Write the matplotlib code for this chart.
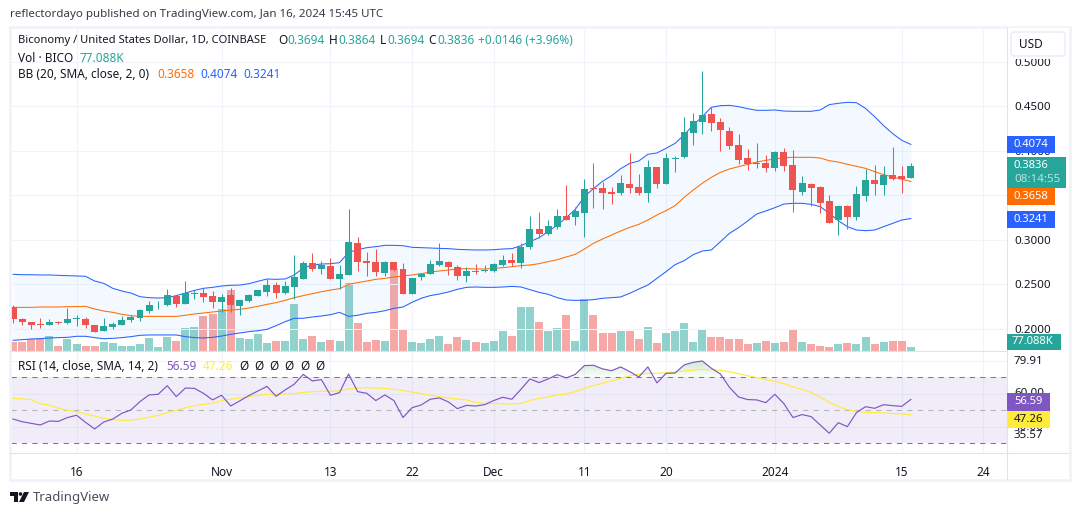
import numpy as np
import pandas as pd
import matplotlib
matplotlib.use('Agg')
import matplotlib.pyplot as plt
from matplotlib.patches import Rectangle, FancyBboxPatch, Polygon, Circle

plt.rcParams['font.family'] = ['Noto Sans', 'DejaVu Sans']

W, H = 1080, 515

# Valores, 9 oct 2023 a 16 ene 2024
open_ = [.2243,.2112,.2078,.2056,.2049,.2078,.2067,.2116,.2112,.2045,.1977,.2022,.2045,.2101,.2123,.2202,.2277,.2269,.2370,.2280,
         .2397,.2404,.2370,.2303,.2381,.2258,.2314,.2370,.2416,.2494,.2404,.2472,.2562,.2742,.2674,.2708,.2562,.2607,.2966,.2764,
         .2753,.2629,.2753,.2674,.2393,.2584,.2618,.2719,.2753,.2696,.2595,.2652,.2652,.2648,.2719,.2775,.2742,.2921,.3124,.3067,
         .3146,.3270,.3258,.3303,.3584,.3584,.3539,.3528,.3629,.3596,.3528,.3820,.3629,.3914,.3933,.4202,.4326,.4416,.4326,.4225,
         .4067,.3921,.3854,.3865,.3809,.3989,.3843,.3539,.3629,.3596,.3438,.3225,.3382,.3258,.3494,.3674,.3618,.3730,.3719,.3694]
close = [.2116,.2078,.2045,.2045,.2078,.2067,.2112,.2123,.2045,.1966,.2034,.2056,.2101,.2134,.2213,.2269,.2284,.2381,.2280,.2404,
         .2404,.2359,.2303,.2359,.2269,.2325,.2381,.2438,.2494,.2404,.2483,.2584,.2742,.2674,.2719,.2562,.2618,.2978,.2753,.2742,
         .2640,.2753,.2663,.2393,.2573,.2618,.2730,.2764,.2696,.2595,.2652,.2640,.2663,.2730,.2775,.2742,.2921,.3124,.3067,.3157,
         .3270,.3225,.3326,.3573,.3573,.3528,.3517,.3640,.3584,.3528,.3820,.3629,.3921,.3921,.4213,.4337,.4404,.4315,.4236,.4056,
         .3899,.3854,.3865,.3809,.3989,.3831,.3562,.3640,.3584,.3416,.3191,.3382,.3258,.3517,.3674,.3629,.3730,.3685,.3685,.3836]
high = [.2269,.2123,.2078,.2123,.2112,.2093,.2236,.2157,.2134,.2045,.2123,.2078,.2146,.2157,.2224,.2314,.2314,.2449,.2370,.2539,
        .2438,.2464,.2427,.2393,.2464,.2325,.2393,.2438,.2562,.2528,.2539,.2831,.2764,.2854,.2764,.2798,.2719,.3348,.3033,.2865,
        .2899,.2764,.2753,.2742,.2573,.2629,.2775,.2966,.2764,.2719,.2696,.2730,.2719,.2742,.2831,.2854,.2966,.3270,.3315,.3225,
        .3348,.3618,.3371,.3685,.3865,.3652,.3596,.3730,.3978,.3742,.3899,.3820,.3978,.3944,.4382,.4427,.4899,.4494,.4371,.4270,
        .4191,.4022,.4090,.3955,.4000,.4034,.4011,.3719,.3640,.3607,.3506,.3382,.3393,.3607,.3798,.3843,.3831,.4045,.3831,.3864]
low = [.2067,.2048,.2003,.2011,.2045,.2056,.2056,.2037,.2011,.1966,.1977,.2003,.2045,.2078,.2089,.2179,.2224,.2258,.2247,.2280,
       .2337,.2303,.2236,.2191,.2191,.2157,.2303,.2370,.2370,.2348,.2393,.2337,.2562,.2652,.2618,.2562,.2449,.2607,.2652,.2595,
       .2595,.2595,.2652,.2393,.2393,.2550,.2618,.2708,.2607,.2550,.2528,.2618,.2640,.2640,.2708,.2708,.2685,.2899,.3022,.3056,
       .3124,.3225,.3169,.3034,.3360,.3348,.3404,.3506,.3528,.3506,.3427,.3584,.3629,.3764,.3921,.4067,.4191,.4225,.4000,.4022,
       .3854,.3787,.3809,.3764,.3775,.3775,.3315,.3506,.3382,.3303,.3191,.3056,.3124,.3225,.3438,.3506,.3506,.3674,.3528,.3694]
volume = [214,214,291,308,360,103,291,154,128,103,206,188,103,103,154,308,77,334,231,565,
          591,874,925,1053,1542,308,291,411,180,231,231,1182,291,360,206,257,231,1722,694,206,
          257,231,2081,514,206,180,283,360,154,334,257,206,180,231,488,360,1105,1105,719,488,
          565,899,231,1310,899,437,437,488,488,283,591,180,437,488,694,206,540,334,334,283,
          283,154,180,231,180,206,514,206,154,128,77,154,180,154,334,154,206,231,231,77]

bb_upper = [.2614,.2610,.2610,.2607,.2607,.2603,.2599,.2596,.2592,.2539,.2513,.2457,.2427,.2404,.2363,.2352,.2348,.2352,.2375,.2404,
            .2434,.2457,.2468,.2483,.2491,.2494,.2509,.2536,.2562,.2558,.2562,.2607,.2685,.2719,.2730,.2734,.2745,.2861,.2891,.2914,
            .2925,.2940,.2940,.2936,.2918,.2914,.2910,.2906,.2903,.2895,.2891,.2888,.2888,.2891,.2899,.2903,.2936,.2981,.3026,.3094,
            .3169,.3251,.3345,.3487,.3577,.3659,.3723,.3801,.3861,.3888,.3963,.3978,.4030,.4086,.4180,.4292,.4386,.4491,.4509,.4513,
            .4498,.4476,.4457,.4457,.4461,.4449,.4446,.4446,.4446,.4461,.4521,.4536,.4547,.4543,.4479,.4386,.4285,.4195,.4120,.4074]
bb_mid = [.2243,.2243,.2243,.2247,.2247,.2247,.2251,.2251,.2255,.2225,.2202,.2187,.2165,.2150,.2142,.2142,.2142,.2142,.2142,.2154,
          .2169,.2180,.2191,.2202,.2213,.2221,.2236,.2255,.2277,.2296,.2322,.2352,.2375,.2397,.2419,.2438,.2453,.2502,.2521,.2539,
          .2558,.2569,.2584,.2596,.2607,.2622,.2640,.2652,.2663,.2674,.2678,.2674,.2674,.2682,.2689,.2700,.2712,.2719,.2734,.2757,
          .2779,.2809,.2839,.2899,.2963,.3011,.3056,.3101,.3142,.3176,.3225,.3281,.3330,.3386,.3479,.3562,.3637,.3704,.3760,.3798,
          .3824,.3850,.3876,.3895,.3910,.3925,.3929,.3929,.3929,.3921,.3891,.3876,.3850,.3828,.3805,.3768,.3734,.3708,.3682,.3658]
bb_lower = [.1873,.1880,.1888,.1891,.1899,.1903,.1906,.1918,.1918,.1903,.1891,.1895,.1903,.1914,.1929,.1933,.1933,.1933,.1933,.1914,
            .1903,.1899,.1906,.1921,.1940,.1955,.1970,.1981,.1996,.2037,.2082,.2120,.2120,.2135,.2146,.2161,.2187,.2142,.2154,.2176,
            .2187,.2206,.2232,.2247,.2300,.2345,.2375,.2393,.2416,.2446,.2468,.2472,.2468,.2468,.2472,.2479,.2472,.2442,.2412,.2390,
            .2352,.2326,.2322,.2322,.2330,.2345,.2352,.2360,.2401,.2449,.2494,.2569,.2644,.2723,.2768,.2835,.2876,.2888,.2981,.3075,
            .3139,.3213,.3292,.3326,.3363,.3404,.3412,.3412,.3401,.3375,.3300,.3217,.3150,.3112,.3105,.3112,.3150,.3187,.3225,.3241]

rsi = [44.7,43.1,42.1,41.1,43.5,43.3,45.6,47.0,42.7,38.7,42.9,44.7,48.2,50.2,55.3,59.3,59.7,64.9,58.3,63.5,
       63.3,60.3,56.3,59.1,52.6,55.7,58.9,61.7,64.5,58.5,62.3,65.8,71.8,67.8,68.6,59.1,60.7,72.0,61.3,60.3,
       55.9,59.3,55.9,45.6,51.6,53.2,56.7,57.5,55.1,51.0,53.0,52.6,53.4,55.9,57.9,56.7,62.7,69.0,66.8,69.0,
       71.6,69.6,71.8,77.1,77.3,75.1,74.0,76.3,73.4,70.2,76.3,66.6,72.4,72.6,77.5,79.1,79.9,75.5,72.0,63.9,
       58.1,56.5,56.3,54.6,59.7,54.0,45.6,47.4,46.2,41.1,36.1,42.5,40.1,48.6,52.2,51.2,53.4,52.8,52.4,56.59]
rsi_ma = [57.3,56.9,56.5,54.0,53.2,51.2,50.0,49.2,47.8,46.4,45.2,44.3,43.9,44.1,44.7,45.8,47.0,48.6,50.0,51.6,
          52.8,53.6,54.4,55.9,56.7,57.5,58.3,59.1,59.7,59.7,59.9,60.1,60.9,61.3,61.5,61.5,61.9,62.9,63.5,63.7,
          63.5,63.3,62.7,61.9,61.1,60.1,59.1,58.3,57.5,56.9,56.3,54.8,54.2,54.0,54.0,53.8,54.2,55.9,57.3,58.1,
          59.3,59.9,61.3,63.3,64.9,66.4,67.8,69.4,70.8,71.8,72.4,72.4,72.8,73.2,73.8,74.4,74.8,74.6,74.2,73.4,
          72.2,71.0,69.8,68.6,67.6,66.2,64.3,62.5,60.9,57.9,54.8,52.2,50.4,49.4,48.8,48.6,48.4,48.0,47.8,47.26]

start = pd.Timestamp('2023-10-09')
tick_dates = ['2023-10-16', '2023-11-01', '2023-11-13', '2023-11-22', '2023-12-01',
              '2023-12-11', '2023-12-20', '2024-01-01', '2024-01-15', '2024-01-24']
tick_labels = ['16', 'Nov', '13', '22', 'Dec', '11', '20', '2024', '15', '24']
price_ticks = [0.20, 0.25, 0.30, 0.35, 0.40, 0.45, 0.50]
rsi_grid = [40, 60, 80]

VERDE = '#26a69a'
ROJO = '#ef5350'
GRID = '#f0f3fa'
TEXTO = '#131722'
LW = 0.75


def panel(l, t, r, b):
    return fig.add_axes([l / W, 1 - b / H, (r - l) / W, (b - t) / H])


fig = plt.figure(figsize=(W / 100, H / 100), dpi=100, facecolor='white')

x = np.arange(len(close))
open_a, close_a = np.array(open_), np.array(close)
sube = close_a >= open_a
colores = [VERDE if s else ROJO for s in sube]
ticks_x = [(pd.Timestamp(d) - start).days for d in tick_dates]
xlim = (-0.28, 109.6)

# Panel de precio y volumen
ax_vol = panel(10.5, 28, 1007, 350.5)
ax = ax_vol.twinx()
ax.set_zorder(ax_vol.get_zorder() + 1)
ax.patch.set_visible(False)

ax_vol.bar(x, volume, width=0.88, color=colores, alpha=0.5, linewidth=0)
ax_vol.set_ylim(0, 8275)
ax_vol.set_yticks([])

ax.fill_between(x, bb_lower, bb_upper, color='#2196f3', alpha=0.05, linewidth=0)
ax.plot(x, bb_upper, color='#2962ff', lw=LW)
ax.plot(x, bb_lower, color='#2962ff', lw=LW)
ax.plot(x, bb_mid, color='#ff6d00', lw=LW)
ax.vlines(x, low, high, colors=colores, lw=LW, zorder=3)
ax.bar(x, np.abs(close_a - open_a), bottom=np.minimum(open_a, close_a), width=0.77,
       color=colores, linewidth=0, zorder=4)

ax.set_xlim(xlim)
ax.set_ylim(0.17584, 0.53820)
ax.set_yticks(price_ticks)
# 0.3500 queda tapado por la etiqueta naranja en el original
ax.set_yticklabels(['' if p == 0.35 else f'{p:.4f}' for p in price_ticks], fontsize=8.3, color=TEXTO)
ax.tick_params(axis='y', length=0, pad=5)
ax_vol.set_xticks(ticks_x)
ax_vol.set_xticklabels([])
ax_vol.tick_params(length=0)
ax_vol.grid(True, axis='x', color=GRID, lw=LW)
ax.grid(True, axis='y', color=GRID, lw=LW)
ax.set_axisbelow(True)
ax_vol.set_axisbelow(True)
for s in list(ax.spines.values()) + list(ax_vol.spines.values()):
    s.set_visible(False)

# Panel RSI
ax_rsi = panel(10.5, 351, 1007, 453)
ax_rsi.axhspan(30, 70, color='#7e57c2', alpha=0.1, linewidth=0)
for lvl in np.arange(70, 80, 1.5):
    ax_rsi.fill_between(x, lvl, rsi, where=np.array(rsi) > lvl, interpolate=True,
                        color='#4caf50', alpha=0.035, linewidth=0)
ax_rsi.axhline(70, color='#787b86', lw=LW, dashes=(5, 5))
ax_rsi.axhline(30, color='#787b86', lw=LW, dashes=(5, 5))
ax_rsi.axhline(50, color='#787b86', lw=LW, dashes=(5, 5), alpha=0.5)
ax_rsi.plot(x, rsi_ma, color='#ffeb3b', lw=LW + 0.1)
ax_rsi.plot(x, rsi, color='#7e57c2', lw=LW + 0.1)
ax_rsi.set_xlim(xlim)
ax_rsi.set_ylim(24.12, 85.94)
ax_rsi.set_yticks(rsi_grid)
ax_rsi.set_yticklabels([])
ax_rsi.set_xticks(ticks_x)
ax_rsi.set_xticklabels(tick_labels, fontsize=8.5, color=TEXTO)
ax_rsi.tick_params(length=0, pad=9)
ax_rsi.get_xticklabels()[7].set_fontweight('bold')
ax_rsi.grid(True, color=GRID, lw=LW)
ax_rsi.set_axisbelow(True)
for s in ax_rsi.spines.values():
    s.set_visible(False)

# Capa en pixeles para marco, etiquetas y leyendas
capa = fig.add_axes([0, 0, 1, 1], zorder=10)
capa.set_xlim(0, W)
capa.set_ylim(H, 0)
capa.axis('off')
capa.patch.set_visible(False)

capa.add_patch(Rectangle((9.5, 27), 1060, 453, fill=False, ec=GRID, lw=2))
capa.plot([1007, 1007], [28, 479], color='#e0e3eb', lw=LW)
capa.plot([10, 1068], [453, 453], color='#e0e3eb', lw=LW)
capa.plot([10, 1007], [350.5, 350.5], color='#e0e3eb', lw=LW)


def texto(px, py, s, color=TEXTO, size=8.5, **kw):
    capa.text(px, py, s, color=color, fontsize=size, va='center', **kw)


def etiqueta(t, b, r, color):
    capa.add_patch(Rectangle((1007, t), r - 1007, b - t, fc=color, ec='none', zorder=2))


texto(10, 15, 'reflectordayo published on TradingView.com, Jan 16, 2024 15:45 UTC', color='#363a45', size=8.3)

texto(18, 41, 'Biconomy / United States Dollar, 1D, COINBASE', size=8.05)
for px, letra, vx, val in [(278, 'O', 287, '0.3694'), (329, 'H', 338, '0.3864'),
                           (380, 'L', 387, '0.3694'), (428, 'C', 437, '0.3836')]:
    texto(px, 41, letra)
    texto(vx, 41, val, color=VERDE)
texto(478, 41, '+0.0146 (+3.96%)', color=VERDE)
texto(18, 58, 'Vol · BICO')
texto(79, 58, '77.088K', color=VERDE)
texto(18, 75, 'BB (20, SMA, close, 2, 0)')
texto(157, 75, '0.3658', color='#ff6d00')
texto(200, 75, '0.4074', color='#2962ff')
texto(243, 75, '0.3241', color='#2962ff')
texto(18, 366, 'RSI (14, close, SMA, 14, 2)')
texto(166, 366, '56.59', color='#7e57c2')
texto(203, 366, '47.26', color='#ffeb3b')
for px in [244, 259, 274, 289, 305, 320]:
    texto(px, 366, 'Ø', ha='center')

# Escala derecha
capa.add_patch(Rectangle((1008, 28), 60, 31, fc='white', ec='none', zorder=1.5))
capa.add_patch(FancyBboxPatch((1011, 32), 54, 24, boxstyle='round,pad=0,rounding_size=3',
                              fc='white', ec='#e8ebf2', lw=1, zorder=1.6))
capa.text(1019, 44, 'USD', color=TEXTO, fontsize=8.5, va='center', zorder=3)

# Asoman detras de las etiquetas del RSI
capa.text(1014, 393.5, '60.00', color=TEXTO, fontsize=8.3, va='center', zorder=1)
capa.text(1014, 427.5, '40.00', color=TEXTO, fontsize=8.3, va='center', zorder=1)

etiqueta(136, 152.5, 1055, '#2962ff')
etiqueta(157, 188, 1066, VERDE)
etiqueta(188, 205, 1055, '#ff6d00')
etiqueta(211, 228, 1055, '#2962ff')
etiqueta(334, 350, 1061, VERDE)
etiqueta(393, 410.5, 1050, '#7e57c2')
etiqueta(410.5, 428, 1050, '#ffeb3b')
texto(1014, 144.5, '0.4074', color='white', fontweight='bold', size=8.1)
texto(1014, 165.5, '0.3836', color='white', fontweight='bold', size=8.1)
texto(1014, 179.5, '08:14:55', color='#b7e3de', size=8.3)
texto(1014, 196.5, '0.3658', color='white', fontweight='bold', size=8.1)
texto(1014, 219.5, '0.3241', color='white', fontweight='bold', size=8.1)
texto(1012, 342, '77.088K', color='white', fontweight='bold', size=8.1)
texto(1014, 402, '56.59', color='white', fontweight='bold', size=8.1)
texto(1014, 419, '47.26', color=TEXTO, size=8.3)
texto(1014, 362, '79.91', size=8.3)
texto(1014, 435, '35.57', size=8.3)

# Logo
capa.add_patch(Polygon([(10, 492), (18, 492), (18, 502), (14, 502), (14, 496), (10, 496)], fc=TEXTO, ec='none'))
capa.add_patch(Circle((20.5, 494), 1.8, fc=TEXTO, ec='none'))
capa.add_patch(Polygon([(24, 492), (29, 492), (24, 502), (19, 502)], fc=TEXTO, ec='none'))
texto(33, 497, 'TradingView', color='#4a4e59', size=9.5)

fig.savefig('out.png', dpi=100)
